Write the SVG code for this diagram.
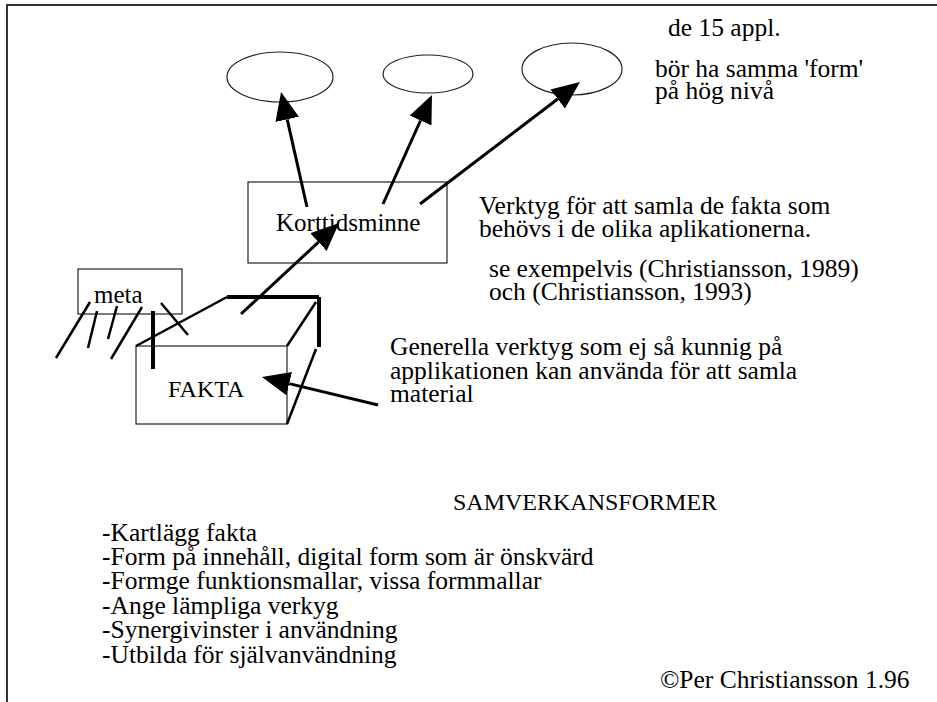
<svg xmlns="http://www.w3.org/2000/svg" width="937" height="702" viewBox="0 0 937 702">
  <defs>
    <style>
      .t { font-family: "Liberation Serif", "Times New Roman", serif; font-size: 25.5px; fill: #000; }
      .thin { fill: none; stroke: #222; stroke-width: 1.2; }
      .arrow { fill: none; stroke: #000; stroke-width: 3; }
      .hatch { fill: none; stroke: #000; stroke-width: 2.5; }
      .heavy { fill: none; stroke: #000; stroke-width: 4; }
      .frame { fill: none; stroke: #333; stroke-width: 2; }
    </style>
    <marker id="head" markerUnits="userSpaceOnUse" markerWidth="29" markerHeight="24" refX="0" refY="12" orient="auto">
      <path d="M0,0 L28,12 L0,24 Z" fill="#000"/>
    </marker>
  </defs>

  <rect width="937" height="702" fill="#fff"/>

  <!-- page frame -->
  <g id="frame">
    <line class="frame" x1="6" y1="5" x2="937" y2="5"/>
    <line class="frame" x1="7" y1="5" x2="7" y2="702" stroke="#111"/>
  </g>

  <!-- application bubbles -->
  <g id="app1"><ellipse class="thin" cx="280" cy="77" rx="53" ry="25"/></g>
  <g id="app2"><ellipse class="thin" cx="428" cy="74" rx="45" ry="19"/></g>
  <g id="app3"><ellipse class="thin" cx="572" cy="69" rx="50" ry="26"/></g>

  <g id="note-apps">
    <text class="t" x="668" y="36">de 15 appl.</text>
    <text class="t" x="655" y="77">bör ha samma 'form'</text>
    <text class="t" x="655" y="99">på hög nivå</text>
  </g>

  <!-- short-term memory -->
  <g id="korttidsminne">
    <rect class="thin" x="248" y="182" width="199" height="81"/>
    <text class="t" x="276" y="231" style="font-size:25px">Korttidsminne</text>
  </g>

  <g id="note-tools">
    <text class="t" x="479" y="214">Verktyg för att samla de fakta som</text>
    <text class="t" x="479" y="237">behövs i de olika aplikationerna.</text>
    <text class="t" x="489" y="277">se exempelvis (Christiansson, 1989)</text>
    <text class="t" x="489" y="300">och (Christiansson, 1993)</text>
  </g>

  <!-- meta box with hatching -->
  <g id="meta">
    <rect class="thin" x="78" y="269" width="104" height="45"/>
    <text class="t" x="94" y="303" style="font-size:25px">meta</text>
    <line class="hatch" x1="90" y1="302" x2="56" y2="358"/>
    <line class="hatch" x1="97" y1="311" x2="88" y2="348"/>
    <line class="hatch" x1="117" y1="306" x2="108" y2="339"/>
    <line class="hatch" x1="142" y1="307" x2="111" y2="359"/>
    <line class="heavy" x1="153" y1="311" x2="153" y2="369"/>
    <line class="hatch" x1="161" y1="303" x2="188" y2="335"/>
  </g>

  <!-- fact store drawn as a box -->
  <g id="fakta">
    <rect class="thin" x="136" y="346" width="151" height="78"/>
    <line class="hatch" x1="136" y1="346" x2="227" y2="297"/>
    <line class="heavy" x1="227" y1="297" x2="319" y2="297"/>
    <line class="heavy" x1="319" y1="297" x2="319" y2="347"/>
    <line class="hatch" x1="287" y1="346" x2="316" y2="302"/>
    <line class="hatch" x1="287" y1="424" x2="316" y2="349"/>
    <text class="t" x="168" y="397" style="font-size:24px">FAKTA</text>
  </g>

  <g id="note-general">
    <text class="t" x="390" y="355">Generella verktyg som ej så kunnig på</text>
    <text class="t" x="390" y="379">applikationen kan använda för att samla</text>
    <text class="t" x="390" y="402">material</text>
  </g>

  <g id="samverkan">
    <text class="t" x="453" y="510" style="font-size:24px">SAMVERKANSFORMER</text>
    <text class="t" x="102" y="541">-Kartlägg fakta</text>
    <text class="t" x="102" y="565">-Form på innehåll, digital form som är önskvärd</text>
    <text class="t" x="102" y="589">-Formge funktionsmallar, vissa formmallar</text>
    <text class="t" x="102" y="614">-Ange lämpliga verkyg</text>
    <text class="t" x="102" y="638">-Synergivinster i användning</text>
    <text class="t" x="102" y="663">-Utbilda för självanvändning</text>
  </g>

  <g id="copyright">
    <text class="t" x="660" y="688">©Per Christiansson 1.96</text>
  </g>

  <!-- connectors: lines end at the arrowhead base -->
  <g id="connectors">
    <line class="arrow" x1="307" y1="207" x2="287.2" y2="119.3" marker-end="url(#head)"/>
    <line class="arrow" x1="383" y1="204" x2="420.5" y2="120.5" marker-end="url(#head)"/>
    <line class="arrow" x1="420" y1="204" x2="557.7" y2="99" marker-end="url(#head)"/>
    <line class="arrow" x1="241" y1="314" x2="318.5" y2="242.1" marker-end="url(#head)"/>
    <line class="arrow" x1="378" y1="405" x2="289.2" y2="383.6" marker-end="url(#head)"/>
  </g>
</svg>
